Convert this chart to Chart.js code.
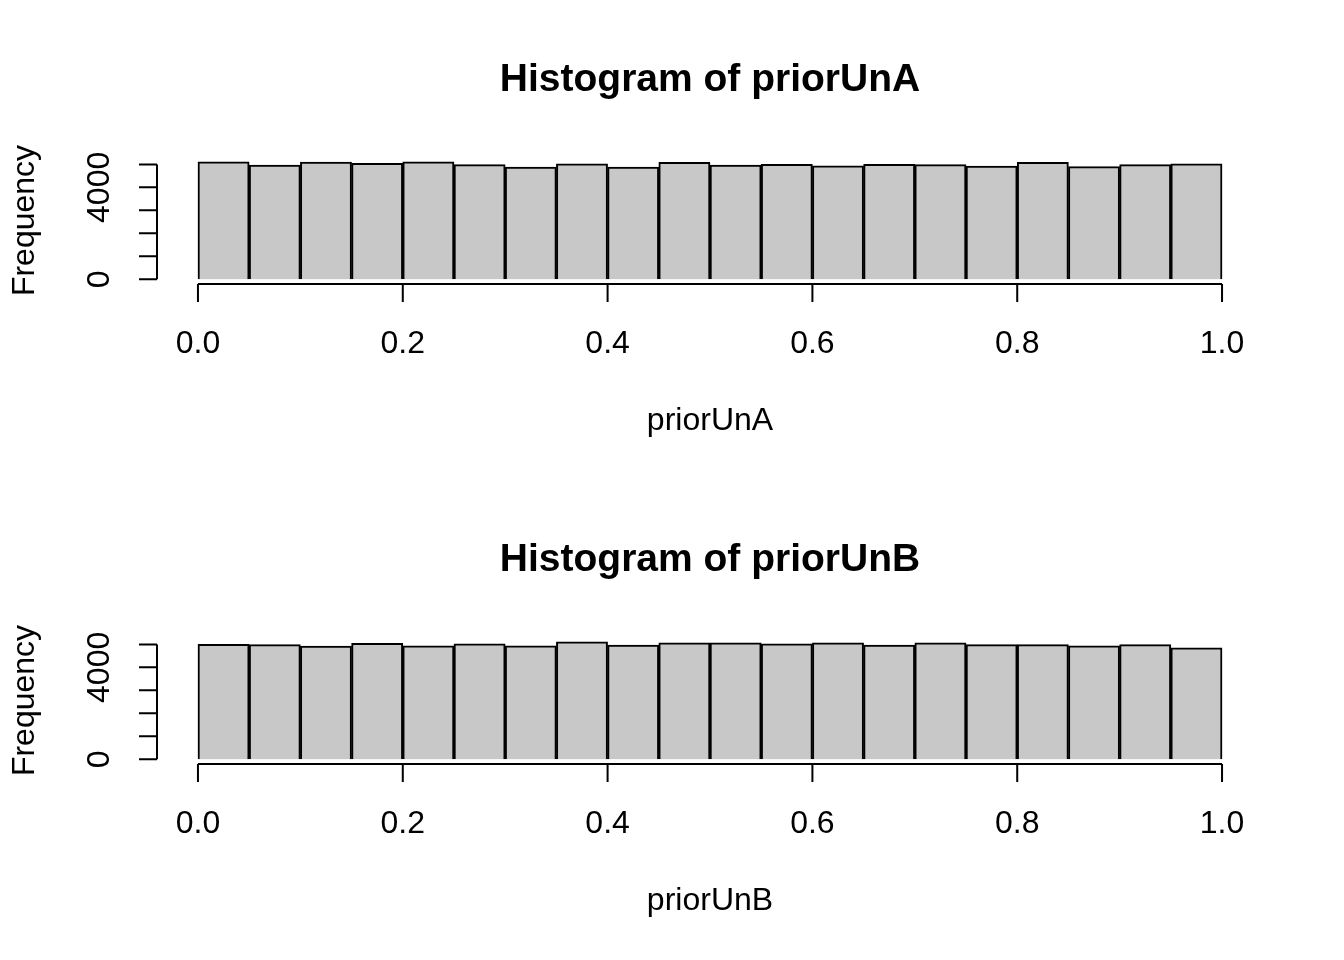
<!DOCTYPE html>
<html>
<head>
<meta charset="utf-8">
<script src="https://cdn.jsdelivr.net/npm/chart.js@4"></script>
<style>
  body { margin: 0; background: #fff; }
  .wrap { position: relative; width: 1344px; height: 480px; }
</style>
</head>
<body>
<div class="wrap"><canvas id="histA" width="1344" height="480"></canvas></div>
<div class="wrap"><canvas id="histB" width="1344" height="480"></canvas></div>
<script>
// bin edges 0, 0.05, ... 1.0 -> bin centers
const binCenters = [0.025, 0.075, 0.125, 0.175, 0.225, 0.275, 0.325, 0.375, 0.425, 0.475,
                    0.525, 0.575, 0.625, 0.675, 0.725, 0.775, 0.825, 0.875, 0.925, 0.975];
const countsA = [5116, 4971, 5101, 5043, 5116, 4986, 4884, 5029, 4884, 5087,
                 4971, 5000, 4942, 5000, 4986, 4928, 5087, 4899, 4986, 5029];
const countsB = [5000, 4986, 4928, 5043, 4942, 5029, 4942, 5116, 4971, 5072,
                 5072, 5029, 5072, 4971, 5072, 4986, 4986, 4942, 4986, 4855];
const xTicks = [0, 0.2, 0.4, 0.6, 0.8, 1.0];
const yTicks = [0, 1000, 2000, 3000, 4000, 5000];
const yLabels = [0, 4000];

const FONT = '"Liberation Sans", Arial, sans-serif';

const rAxes = {
  id: 'rAxes',
  afterDraw(chart, args, opts) {
    const ctx = chart.ctx;
    const x = chart.scales.x, y = chart.scales.y;
    const area = chart.chartArea;
    ctx.save();
    ctx.strokeStyle = '#000';
    ctx.fillStyle = '#000';
    ctx.lineWidth = 2;
    // x axis
    ctx.beginPath();
    ctx.moveTo(x.getPixelForValue(0), area.bottom);
    ctx.lineTo(x.getPixelForValue(1), area.bottom);
    xTicks.forEach(t => {
      const px = x.getPixelForValue(t);
      ctx.moveTo(px, area.bottom);
      ctx.lineTo(px, area.bottom + 18);
    });
    ctx.stroke();
    ctx.font = '32px ' + FONT;
    ctx.textAlign = 'center';
    ctx.textBaseline = 'middle';
    xTicks.forEach(t => ctx.fillText(t.toFixed(1), x.getPixelForValue(t), area.bottom + 60));
    // y axis
    ctx.beginPath();
    ctx.moveTo(area.left, y.getPixelForValue(0));
    ctx.lineTo(area.left, y.getPixelForValue(5000));
    yTicks.forEach(t => {
      const py = y.getPixelForValue(t);
      ctx.moveTo(area.left, py);
      ctx.lineTo(area.left - 18, py);
    });
    ctx.stroke();
    yLabels.forEach(t => {
      ctx.save();
      ctx.translate(area.left - 57, y.getPixelForValue(t));
      ctx.rotate(-Math.PI / 2);
      ctx.fillText(String(t), 0, 0);
      ctx.restore();
    });
    // axis titles
    ctx.fillText(opts.xTitle, (x.getPixelForValue(0) + x.getPixelForValue(1)) / 2, area.bottom + 137);
    ctx.save();
    ctx.translate(25, (area.top + area.bottom) / 2);
    ctx.rotate(-Math.PI / 2);
    ctx.fillText('Frequency', 0, 0);
    ctx.restore();
    ctx.font = 'bold 39px ' + FONT;
    ctx.fillText(opts.title, (x.getPixelForValue(0) + x.getPixelForValue(1)) / 2, 80);
    ctx.restore();
  }
};

function drawHist(id, counts, name) {
  new Chart(document.getElementById(id), {
    type: 'bar',
    data: {
      datasets: [{
        data: binCenters.map((c, i) => ({ x: c, y: counts[i] })),
        backgroundColor: '#c8c8c8',
        borderColor: '#000',
        borderWidth: 2,
        barPercentage: 1,
        categoryPercentage: 1
      }]
    },
    options: {
      responsive: false,
      animation: false,
      layout: { padding: { left: 157, right: 81, top: 157, bottom: 196 } },
      scales: {
        x: { type: 'linear', min: -0.04, max: 1.04, display: false, offset: false },
        y: { min: -205, max: 5321, display: false }
      },
      plugins: {
        legend: { display: false },
        tooltip: { enabled: false },
        rAxes: { title: 'Histogram of ' + name, xTitle: name }
      }
    },
    plugins: [rAxes]
  });
}

drawHist('histA', countsA, 'priorUnA');
drawHist('histB', countsB, 'priorUnB');
</script>
</body>
</html>
